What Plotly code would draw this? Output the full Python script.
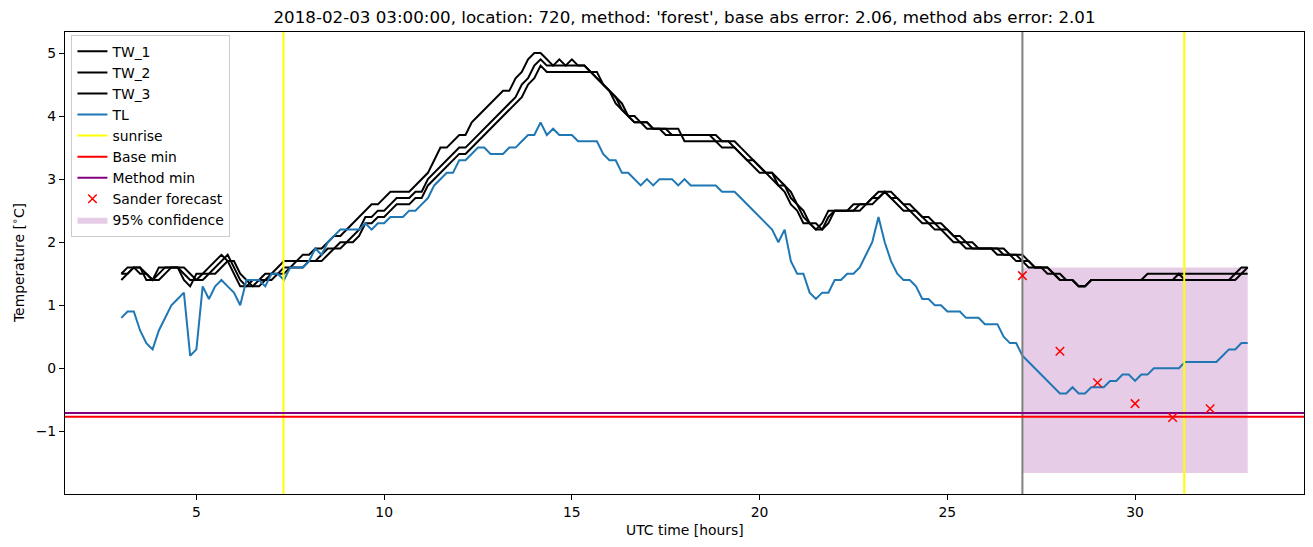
import plotly.graph_objects as go

# ---------------- data ----------------
time_hours = [round(3 + k / 6, 4) for k in range(181)]  # 10-minute grid, 03:00 .. 33:00

TW_1 = [1.5, 1.6, 1.6, 1.5, 1.5, 1.4, 1.6, 1.6, 1.6, 1.6,
        1.4, 1.3, 1.5, 1.5, 1.6, 1.7, 1.8, 1.7, 1.5, 1.3,
        1.3, 1.4, 1.4, 1.5, 1.5, 1.6, 1.7, 1.7, 1.7, 1.8,
        1.8, 1.9, 1.9, 2.0, 2.1, 2.1, 2.2, 2.3, 2.4, 2.5,
        2.6, 2.6, 2.7, 2.8, 2.8, 2.8, 2.8, 2.9, 3.0, 3.1,
        3.3, 3.5, 3.5, 3.6, 3.7, 3.7, 3.9, 4.0, 4.1, 4.2,
        4.3, 4.4, 4.4, 4.6, 4.7, 4.9, 5.0, 5.0, 4.9, 4.8,
        4.9, 4.8, 4.9, 4.8, 4.8, 4.7, 4.7, 4.5, 4.4, 4.2,
        4.1, 4.0, 3.9, 3.9, 3.8, 3.8, 3.8, 3.8, 3.8, 3.8,
        3.6, 3.6, 3.6, 3.6, 3.6, 3.6, 3.5, 3.5, 3.5, 3.4,
        3.3, 3.2, 3.1, 3.1, 3.1, 2.9, 2.8, 2.6, 2.5, 2.3,
        2.3, 2.2, 2.3, 2.5, 2.5, 2.5, 2.5, 2.6, 2.6, 2.6,
        2.7, 2.8, 2.8, 2.7, 2.6, 2.5, 2.5, 2.4, 2.3, 2.3,
        2.2, 2.2, 2.1, 2.0, 2.0, 1.9, 1.9, 1.9, 1.9, 1.9,
        1.9, 1.8, 1.8, 1.7, 1.7, 1.6, 1.6, 1.6, 1.5, 1.5,
        1.4, 1.4, 1.4, 1.3, 1.3, 1.4, 1.4, 1.4, 1.4, 1.4,
        1.4, 1.4, 1.4, 1.4, 1.5, 1.5, 1.5, 1.5, 1.5, 1.5,
        1.5, 1.5, 1.5, 1.5, 1.5, 1.5, 1.5, 1.5, 1.5, 1.6, 1.6]

TW_2 = [1.4, 1.5, 1.6, 1.6, 1.4, 1.4, 1.5, 1.6, 1.6, 1.6,
        1.5, 1.4, 1.4, 1.5, 1.5, 1.6, 1.7, 1.8, 1.6, 1.4,
        1.3, 1.3, 1.4, 1.4, 1.5, 1.5, 1.6, 1.6, 1.7, 1.7,
        1.7, 1.7, 1.8, 1.9, 1.9, 2.0, 2.0, 2.1, 2.2, 2.4,
        2.4, 2.5, 2.5, 2.6, 2.7, 2.7, 2.7, 2.8, 2.8, 3.0,
        3.1, 3.2, 3.3, 3.4, 3.5, 3.5, 3.6, 3.7, 3.8, 3.9,
        4.0, 4.1, 4.2, 4.3, 4.5, 4.6, 4.8, 4.9, 4.8, 4.8,
        4.8, 4.8, 4.8, 4.8, 4.8, 4.7, 4.6, 4.5, 4.4, 4.3,
        4.1, 4.0, 4.0, 3.9, 3.9, 3.8, 3.8, 3.8, 3.7, 3.7,
        3.7, 3.7, 3.7, 3.7, 3.7, 3.7, 3.6, 3.6, 3.6, 3.5,
        3.4, 3.3, 3.2, 3.1, 3.1, 3.0, 2.9, 2.7, 2.6, 2.4,
        2.3, 2.2, 2.2, 2.4, 2.5, 2.5, 2.5, 2.5, 2.6, 2.6,
        2.6, 2.7, 2.8, 2.7, 2.7, 2.6, 2.5, 2.5, 2.4, 2.3,
        2.3, 2.2, 2.2, 2.1, 2.0, 2.0, 1.9, 1.9, 1.9, 1.9,
        1.8, 1.8, 1.8, 1.8, 1.7, 1.7, 1.6, 1.6, 1.6, 1.5,
        1.4, 1.4, 1.4, 1.3, 1.3, 1.4, 1.4, 1.4, 1.4, 1.4,
        1.4, 1.4, 1.4, 1.4, 1.4, 1.4, 1.4, 1.4, 1.4, 1.5,
        1.4, 1.4, 1.4, 1.4, 1.4, 1.4, 1.4, 1.4, 1.5, 1.5, 1.6]

TW_3 = [1.5, 1.5, 1.6, 1.6, 1.5, 1.4, 1.4, 1.5, 1.6, 1.6,
        1.6, 1.5, 1.4, 1.4, 1.5, 1.5, 1.6, 1.7, 1.7, 1.5,
        1.4, 1.3, 1.3, 1.4, 1.4, 1.5, 1.5, 1.6, 1.6, 1.6,
        1.7, 1.7, 1.7, 1.8, 1.9, 1.9, 2.0, 2.0, 2.1, 2.3,
        2.3, 2.4, 2.4, 2.5, 2.6, 2.6, 2.6, 2.7, 2.7, 2.9,
        3.0, 3.1, 3.2, 3.3, 3.4, 3.4, 3.5, 3.6, 3.7, 3.8,
        3.9, 4.0, 4.1, 4.2, 4.3, 4.5, 4.6, 4.8, 4.7, 4.7,
        4.7, 4.7, 4.7, 4.7, 4.7, 4.7, 4.6, 4.5, 4.4, 4.3,
        4.2, 4.0, 3.9, 3.9, 3.9, 3.8, 3.8, 3.7, 3.7, 3.7,
        3.7, 3.7, 3.7, 3.7, 3.7, 3.6, 3.6, 3.6, 3.5, 3.4,
        3.3, 3.3, 3.2, 3.1, 3.0, 2.9, 2.9, 2.8, 2.6, 2.5,
        2.3, 2.3, 2.2, 2.3, 2.5, 2.5, 2.5, 2.5, 2.5, 2.6,
        2.7, 2.7, 2.8, 2.8, 2.7, 2.6, 2.6, 2.5, 2.4, 2.4,
        2.3, 2.3, 2.2, 2.1, 2.1, 2.0, 2.0, 1.9, 1.9, 1.9,
        1.9, 1.9, 1.8, 1.8, 1.8, 1.7, 1.6, 1.6, 1.6, 1.5,
        1.5, 1.4, 1.4, 1.3, 1.3, 1.4, 1.4, 1.4, 1.4, 1.4,
        1.4, 1.4, 1.4, 1.4, 1.4, 1.4, 1.4, 1.4, 1.4, 1.4,
        1.4, 1.4, 1.4, 1.4, 1.4, 1.4, 1.4, 1.4, 1.4, 1.5, 1.5]

TL = [0.8, 0.9, 0.9, 0.6, 0.4, 0.3, 0.6, 0.8, 1.0, 1.1,
      1.2, 0.2, 0.3, 1.3, 1.1, 1.3, 1.4, 1.3, 1.2, 1.0,
      1.4, 1.4, 1.4, 1.3, 1.5, 1.5, 1.4, 1.6, 1.6, 1.6,
      1.7, 1.9, 1.8, 2.0, 2.1, 2.2, 2.2, 2.2, 2.2, 2.3,
      2.2, 2.3, 2.3, 2.4, 2.4, 2.4, 2.5, 2.5, 2.6, 2.7,
      2.9, 3.0, 3.1, 3.1, 3.3, 3.3, 3.4, 3.5, 3.5, 3.4,
      3.4, 3.4, 3.5, 3.5, 3.6, 3.7, 3.7, 3.9, 3.7, 3.8,
      3.7, 3.7, 3.7, 3.6, 3.6, 3.6, 3.6, 3.4, 3.3, 3.3,
      3.1, 3.1, 3.0, 2.9, 3.0, 2.9, 3.0, 3.0, 3.0, 2.9,
      3.0, 2.9, 2.9, 2.9, 2.9, 2.9, 2.8, 2.8, 2.8, 2.7,
      2.6, 2.5, 2.4, 2.3, 2.2, 2.0, 2.2, 1.7, 1.5, 1.5,
      1.2, 1.1, 1.2, 1.2, 1.4, 1.4, 1.5, 1.5, 1.6, 1.8,
      2.0, 2.4, 2.0, 1.7, 1.5, 1.4, 1.4, 1.3, 1.1, 1.1,
      1.0, 1.0, 0.9, 0.9, 0.9, 0.8, 0.8, 0.8, 0.7, 0.7,
      0.7, 0.5, 0.4, 0.4, 0.2, 0.1, 0.0, -0.1, -0.2, -0.3,
      -0.4, -0.4, -0.3, -0.4, -0.4, -0.3, -0.3, -0.3, -0.2, -0.2,
      -0.1, -0.1, -0.2, -0.1, -0.1, 0.0, 0.0, 0.0, 0.0, 0.0,
      0.1, 0.1, 0.1, 0.1, 0.1, 0.1, 0.2, 0.3, 0.3, 0.4, 0.4]

sunrise_hours = [7.32, 31.31]
forecast_start = 27.0
base_min = -0.77
method_min = -0.71

sander_hours = [27, 28, 29, 30, 31, 32]
sander_values = [1.47, 0.27, -0.23, -0.56, -0.78, -0.64]

conf_hours = [27, 33]
conf_low = -1.66
conf_high = 1.60

x_ticks = [5, 10, 15, 20, 25, 30]
y_ticks = [-1, 0, 1, 2, 3, 4, 5]

title_text = ("2018-02-03 03:00:00, location: 720, method: 'forest', "
              "base abs error: 2.06, method abs error: 2.01")

for arr in (TW_1, TW_2, TW_3, TL):
    assert len(arr) == len(time_hours), len(arr)

# ---------------- axis ranges (matplotlib-like 5% margins) ----------------
all_x = time_hours + conf_hours + sander_hours
all_y = TW_1 + TW_2 + TW_3 + TL + [conf_low, conf_high] + sander_values
xmin, xmax = min(all_x), max(all_x)
ymin, ymax = min(all_y), max(all_y)
xpad = 0.05 * (xmax - xmin)
ypad = 0.05 * (ymax - ymin)
x_range = [xmin - xpad, xmax + xpad]
y_range = [ymin - ypad, ymax + ypad]

FONT = "DejaVu Sans"
FS = 13.9
LW = 2.0
fig = go.Figure()

# confidence band (drawn first, listed last)
fig.add_trace(go.Scatter(
    x=[conf_hours[0], conf_hours[1], conf_hours[1], conf_hours[0], conf_hours[0]],
    y=[conf_low, conf_low, conf_high, conf_high, conf_low],
    fill="toself", fillcolor="rgba(128,0,128,0.2)", mode="lines",
    line=dict(width=0, color="rgba(128,0,128,0)"),
    name="95% confidence", legendrank=9, hoverinfo="skip"))

for i, (nm, arr) in enumerate([("TW_1", TW_1), ("TW_2", TW_2), ("TW_3", TW_3)]):
    fig.add_trace(go.Scatter(x=time_hours, y=arr, mode="lines", name=nm,
                             line=dict(color="black", width=LW), legendrank=1 + i))

fig.add_trace(go.Scatter(x=time_hours, y=TL, mode="lines", name="TL",
                         line=dict(color="#1f77b4", width=LW), legendrank=4))

# forecast start (grey vertical line, no legend)
fig.add_trace(go.Scatter(x=[forecast_start, forecast_start], y=y_range, mode="lines",
                         line=dict(color="grey", width=LW), showlegend=False, hoverinfo="skip"))

sx, sy = [], []
for s in sunrise_hours:
    sx += [s, s, None]
    sy += [y_range[0], y_range[1], None]
fig.add_trace(go.Scatter(x=sx, y=sy, mode="lines", name="sunrise",
                         line=dict(color="yellow", width=LW), legendrank=5))

fig.add_trace(go.Scatter(x=x_range, y=[base_min, base_min], mode="lines", name="Base min",
                         line=dict(color="red", width=LW), legendrank=6))
fig.add_trace(go.Scatter(x=x_range, y=[method_min, method_min], mode="lines", name="Method min",
                         line=dict(color="purple", width=LW), legendrank=7))

fig.add_trace(go.Scatter(x=sander_hours, y=sander_values, mode="markers", name="Sander forecast",
                         marker=dict(symbol="x-thin", size=8.5, color="red",
                                     line=dict(color="red", width=1.5)),
                         legendrank=8))

axis_common = dict(showline=True, linecolor="black", linewidth=1.1, mirror=True,
                   ticks="outside", ticklen=5, tickwidth=1.1, tickcolor="black",
                   showgrid=False, zeroline=False,
                   tickfont=dict(family=FONT, size=FS, color="black"))

fig.update_layout(
    width=1313, height=547,
    margin=dict(l=65, r=9, t=32, b=53),
    paper_bgcolor="white", plot_bgcolor="white",
    font=dict(family=FONT, size=FS, color="black"),
    title=dict(text=title_text, x=0.5, xref="paper", xanchor="center",
               y=1 - 17 / 547, yref="container", yanchor="middle",
               font=dict(family=FONT, size=16.7, color="black")),
    xaxis=dict(range=x_range, tickvals=x_ticks, **axis_common),
    yaxis=dict(range=y_range, tickvals=y_ticks, **axis_common),
    legend=dict(x=0.0052, y=0.994, xanchor="left", yanchor="top",
                bgcolor="rgba(255,255,255,0.8)", bordercolor="#cccccc", borderwidth=1,
                font=dict(family=FONT, size=FS, color="black"), traceorder="normal"),
    showlegend=True,
    annotations=[
        dict(text="UTC time [hours]", xref="paper", yref="paper", x=0.5, y=0,
             xanchor="center", yanchor="middle", yshift=-36, showarrow=False,
             font=dict(family=FONT, size=FS, color="black")),
        dict(text="Temperature [<sup>∘</sup>C]", xref="paper", yref="paper", x=0, y=0.5,
             xanchor="center", yanchor="middle", xshift=-47, textangle=-90, showarrow=False,
             font=dict(family=FONT, size=FS, color="black")),
    ],
)

fig.write_html("out.html")
